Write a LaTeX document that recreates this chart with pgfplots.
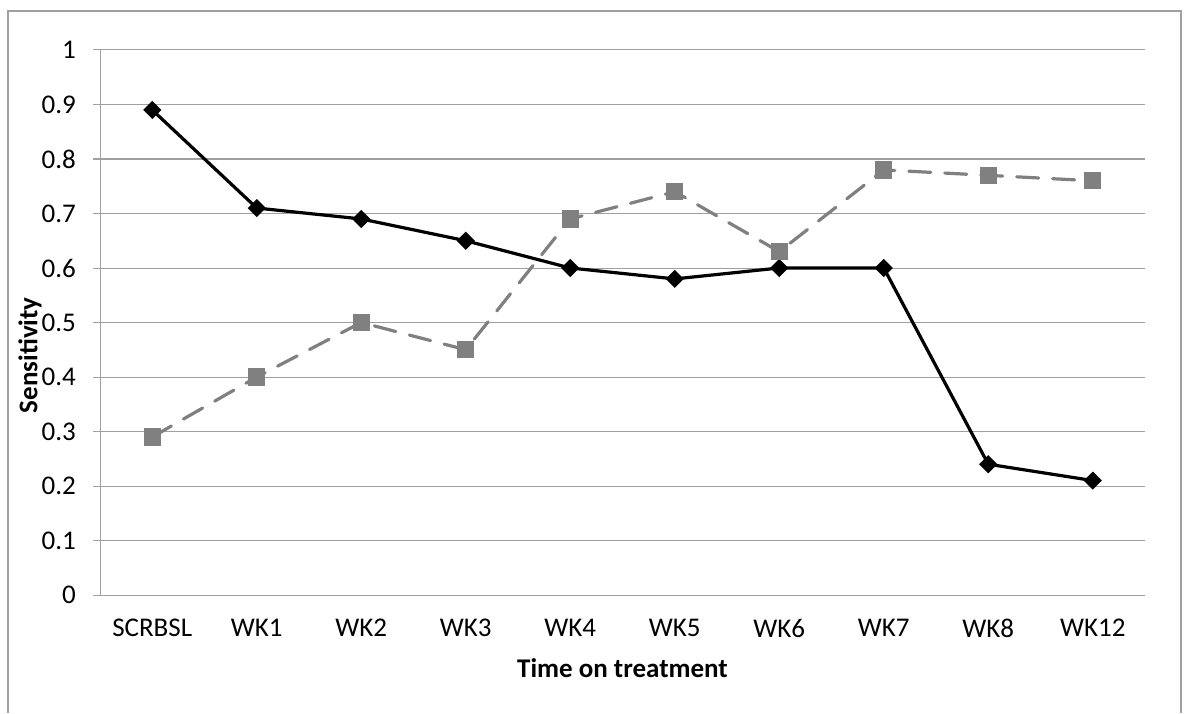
\documentclass[border=0pt]{standalone}
\usepackage{pgfplots}
\pgfplotsset{compat=1.18}
\usepackage{fontspec}
\setmainfont{Carlito}

\definecolor{gridgray}{RGB}{160,160,160}
\definecolor{seriesgray}{RGB}{128,128,128}

\begin{document}
\begin{tikzpicture}
\useasboundingbox (0,0) rectangle (593pt,356.5pt);
% outer chart frame
\draw[gridgray, line width=0.6pt] (4pt,0) -- (4pt,351pt) -- (590.5pt,351pt) -- (590.5pt,0);
\begin{axis}[
    at={(50pt,59pt)}, anchor=south west,
    scale only axis,
    width=522.5pt, height=272.5pt,
    xmin=-0.5, xmax=9.5,
    ymin=0, ymax=1,
    axis lines*=left,
    axis line style={gridgray, line width=0.5pt},
    xtick={0,...,9},
    xticklabels={SCRBSL,WK1,WK2,WK3,WK4,WK5,WK6,WK7,WK8,WK12},
    major x tick style={draw=none},
    extra x ticks={-0.5,0.5,...,9.5},
    extra x tick labels={},
    extra x tick style={tick align=outside, major tick length=4pt, major tick style={gridgray, line width=0.5pt}},
    ytick={0,0.1,...,1.01},
    tick align=outside,
    major tick length=3.5pt,
    ytick style={gridgray, line width=0.5pt},
    ymajorgrids,
    grid style={gridgray, line width=0.5pt},
    yticklabel style={/pgf/number format/fixed, /pgf/number format/precision=1, /pgf/number format/assume math mode=true, xshift=-5pt},
    xticklabel style={yshift=-5pt},
    tick label style={font=\fontsize{13.5}{15}\selectfont, text=black},
    xlabel={\textbf{Time on treatment}},
    ylabel={\textbf{Sensitivity}},
    label style={font=\fontsize{13.5}{15}\selectfont},
    xlabel style={at={(axis description cs:0.5,0)}, anchor=center, yshift=-36.5pt},
    ylabel style={at={(axis description cs:0,0.44)}, anchor=center, yshift=35pt},
    clip=false,
]
\addplot[black, line width=1.6pt, mark=square*, mark size=2.4pt, mark options={rotate=45, solid}] coordinates {
    (0,0.89) (1,0.71) (2,0.69) (3,0.65) (4,0.60) (5,0.58) (6,0.60) (7,0.60) (8,0.24) (9,0.21)
};
\addplot[seriesgray, line width=1.6pt, line cap=round, dash pattern=on 11pt off 7pt, mark=square*, mark size=3.5pt, mark options={solid}] coordinates {
    (0,0.29) (1,0.40) (2,0.50) (3,0.45) (4,0.69) (5,0.74) (6,0.63) (7,0.78) (8,0.77) (9,0.76)
};
\end{axis}
\end{tikzpicture}
\end{document}
